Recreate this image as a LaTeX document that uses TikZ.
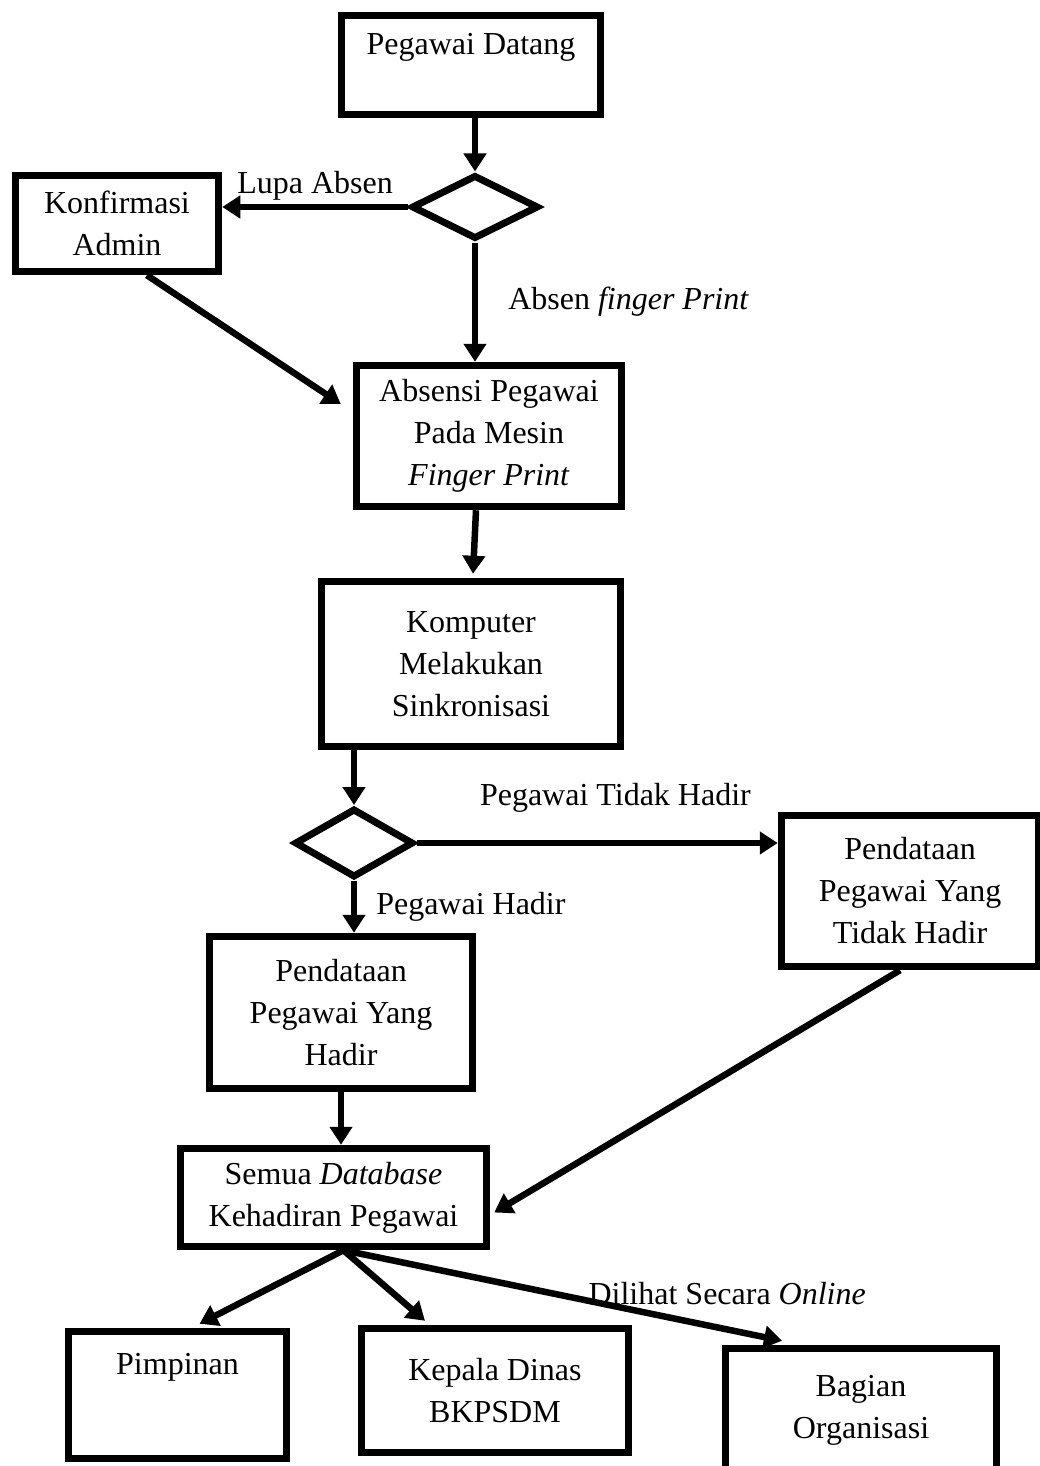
\documentclass[tikz,border=0pt]{standalone}
\usepackage{fontspec}
\setmainfont{Liberation Serif}
\usetikzlibrary{arrows.meta, shapes.geometric}
\tikzset{
  block/.style={rectangle, draw=black, line width=7.5pt, fill=white,
                align=center, inner sep=0pt},
  decision/.style={diamond, draw=black, line width=7pt, fill=white,
                   inner sep=0pt},
  arrow/.style={-{Triangle[length=18pt, width=22pt]}, line width=6.5pt,
                draw=black},
  lbl/.style={inner sep=0pt},
}

\begin{document}
\begin{tikzpicture}[
  x=1pt, y=-1pt,
  font=\fontsize{32}{42}\selectfont
]
  \useasboundingbox (0,0) rectangle (1039,1466);

  \node[block, minimum width=259pt, minimum height=99pt]  (datang)   at (471,65)     {Pegawai Datang\\ \mbox{}};
  \node[decision, minimum width=127pt, minimum height=64pt] (cekabsen) at (475,207) {};
  \node[block, minimum width=203pt, minimum height=96pt]  (konf)     at (117,223.5)  {Konfirmasi\\Admin};
  \node[block, minimum width=265pt, minimum height=141pt] (absensi)  at (489,436)    {Absensi Pegawai\\Pada Mesin\\\textit{Finger Print}};
  \node[block, minimum width=299pt, minimum height=165pt] (komputer) at (471,664)    {Komputer\\Melakukan\\Sinkronisasi};
  \node[decision, minimum width=119pt, minimum height=69pt] (cekhadir) at (354,843) {};
  \node[block, minimum width=257pt, minimum height=151pt] (tidak)    at (910,891)    {Pendataan\\Pegawai Yang\\Tidak Hadir};
  \node[block, minimum width=263pt, minimum height=152pt] (hadir)    at (341,1012.5) {Pendataan\\Pegawai Yang\\Hadir};
  \node[block, minimum width=306pt, minimum height=98pt]  (semua)    at (333.5,1197.5) {Semua \textit{Database}\\Kehadiran Pegawai};
  \node[block, minimum width=218pt, minimum height=127pt] (pimpinan) at (177.5,1395) {Pimpinan\\ \mbox{}\\[-22pt] \mbox{}};
  \node[block, minimum width=267pt, minimum height=124pt] (kepala)   at (495,1390.5) {Kepala Dinas\\BKPSDM};
  \node[block, minimum width=271pt, minimum height=123pt] (bagian)   at (861,1410)   {Bagian\\Organisasi};

  \draw[arrow] (datang.south -| cekabsen.north) -- (cekabsen.north);
  \draw[arrow] (cekabsen.west) -- (cekabsen.west -| konf.east)
    node[lbl, midway, above=3pt] (lupa) {Lupa Absen};
  \draw[arrow] (cekabsen.south) -- (cekabsen.south |- absensi.north)
    node[lbl, midway, right=30pt] (finger) {Absen \textit{finger Print}};
  \draw[arrow] (konf.-60) -- ([xshift=-12pt, yshift=32pt]absensi.west);
  \draw[arrow] ([xshift=-13pt]absensi.south) -- ([xshift=2pt, yshift=4pt]komputer.north);
  \draw[arrow] (cekhadir.north |- komputer.south) -- (cekhadir.north);
  \draw[arrow] (cekhadir.east) -- (cekhadir.east -| tidak.west)
    node[lbl, pos=0.55, above=27pt] (lbltidak) {Pegawai Tidak Hadir};
  \draw[arrow] (cekhadir.south) -- (cekhadir.south |- hadir.north)
    node[lbl, midway, right=19pt] (lblhadir) {Pegawai Hadir};
  \draw[arrow] (hadir.south) -- (hadir.south |- semua.north);
  \draw[arrow] ([xshift=-10pt]tidak.south) -- ([xshift=4pt, yshift=-15pt]semua.east);
  \draw[arrow] ([xshift=10pt]semua.south) -- ([xshift=22pt, yshift=4pt]pimpinan.north);
  \draw[arrow] ([xshift=10pt]semua.south) -- ([xshift=-70pt, yshift=4pt]kepala.north);
  \draw[arrow] ([xshift=10pt]semua.south) -- ([xshift=-79pt, yshift=4pt]bagian.north)
    node[lbl, pos=0.875, yshift=36pt] (online) {Dilihat Secara \textit{Online}};

\end{tikzpicture}
\end{document}
